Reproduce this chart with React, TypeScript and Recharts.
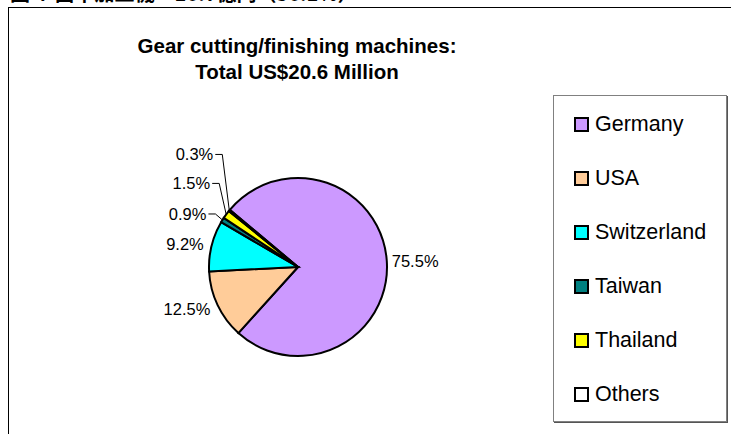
import { PieChart, Pie, Cell, Legend } from 'recharts';

const countries = ['Germany', 'USA', 'Switzerland', 'Taiwan', 'Thailand', 'Others'];
const shares = [75.5, 12.5, 9.2, 0.9, 1.5, 0.3];
const colors = ['#CC99FF', '#FFCC99', '#00FFFF', '#008080', '#FFFF00', '#FFFFFF'];

const titleLines = ['Gear cutting/finishing machines:', 'Total US$20.6 Million'];
const topCaption = '図４ 歯車加工機：16.7億円（56.1%）';

const data = countries.map((name, i) => ({ name, value: shares[i], fill: colors[i] }));

const RAD = Math.PI / 180;
const labelFont = '"Liberation Sans", Arial, sans-serif';

// small slices get stacked labels with leader lines, like Excel does
const renderLabel = (props: any) => {
  const { cx, cy, midAngle, outerRadius, index, value } = props;
  const cos = Math.cos(-midAngle * RAD);
  const sin = Math.sin(-midAngle * RAD);
  const text = `${value.toFixed(1)}%`;

  if (value < 2) {
    const k = index - 3;
    const ex = cx + outerRadius * cos;
    const ey = cy + outerRadius * sin;
    const ly = ey - 6 - k * 25;
    const tx = ex - 16;
    return (
      <g>
        <polyline
          points={`${tx + 2},${ly} ${ex - 7},${ly} ${ex},${ey}`}
          fill="none"
          stroke="#000"
          strokeWidth={1}
        />
        <text x={tx} y={ly} textAnchor="end" dominantBaseline="central" fontSize={16.5} fontFamily={labelFont} fill="#000">
          {text}
        </text>
      </g>
    );
  }

  const r = outerRadius + (cos > 0 ? 5 : 8);
  const x = cx + r * cos;
  const y = cy + r * sin;
  return (
    <text
      x={x}
      y={y}
      textAnchor={cos > 0 ? 'start' : 'end'}
      dominantBaseline="central"
      fontSize={16.5}
      fontFamily={labelFont}
      fill="#000"
    >
      {text}
    </text>
  );
};

const renderLegend = (props: any) => {
  const items = [...(props.payload || [])].sort(
    (a: any, b: any) => countries.indexOf(a.value) - countries.indexOf(b.value)
  );
  return (
    <div style={{ paddingTop: 1 }}>
      {items.map((entry: any, i: number) => (
        <div
          key={`leg-${i}`}
          style={{ display: 'flex', alignItems: 'center', height: 54, paddingLeft: 20 }}
        >
          <span
            style={{
              display: 'inline-block',
              width: 11,
              height: 11,
              border: '2px solid #000',
              background: entry.color,
              marginRight: 6,
            }}
          />
          <span style={{ fontSize: 21.5, fontFamily: labelFont, color: '#000' }}>{entry.value}</span>
        </div>
      ))}
    </div>
  );
};

export default function App() {
  return (
    <div
      style={{
        position: 'fixed',
        left: 0,
        top: 0,
        width: 731,
        height: 434,
        background: '#fff',
        overflow: 'hidden',
      }}
    >
      <div
        style={{
          position: 'absolute',
          left: 10,
          top: -22,
          fontSize: 20,
          fontWeight: 'bold',
          fontFamily: '"Noto Sans CJK JP", sans-serif',
          whiteSpace: 'nowrap',
        }}
      >
        {topCaption}
      </div>
      <div
        style={{
          position: 'absolute',
          left: 8,
          top: 7,
          width: 760,
          height: 460,
          borderLeft: '1px solid #000',
          borderTop: '1px solid #000',
          background: '#fff',
        }}
      />
      <div
        style={{
          position: 'absolute',
          left: 97,
          top: 33,
          width: 400,
          textAlign: 'center',
          fontSize: 20.5,
          fontWeight: 'bold',
          lineHeight: '26px',
          fontFamily: labelFont,
        }}
      >
        {titleLines.map((t) => (
          <div key={t}>{t}</div>
        ))}
      </div>
      <div style={{ position: 'absolute', left: 0, top: 0 }}>
        <PieChart width={731} height={434} margin={{ top: 0, right: 0, bottom: 0, left: 0 }}>
          <Pie
            data={data}
            dataKey="value"
            nameKey="name"
            cx={298}
            cy={267}
            outerRadius={89}
            startAngle={140}
            endAngle={-220}
            stroke="#000"
            strokeWidth={2}
            label={renderLabel}
            labelLine={false}
            isAnimationActive={false}
          >
            {data.map((entry, index) => (
              <Cell key={`cell-${index}`} fill={entry.fill} />
            ))}
          </Pie>
          <Legend
            content={renderLegend}
            wrapperStyle={{
              position: 'absolute',
              left: 553,
              top: 95,
              width: 174,
              height: 327,
              boxSizing: 'border-box',
              border: '1px solid #808080',
              boxShadow: '1px 1px 0 #555',
              background: '#fff',
            }}
          />
        </PieChart>
      </div>
    </div>
  );
}
